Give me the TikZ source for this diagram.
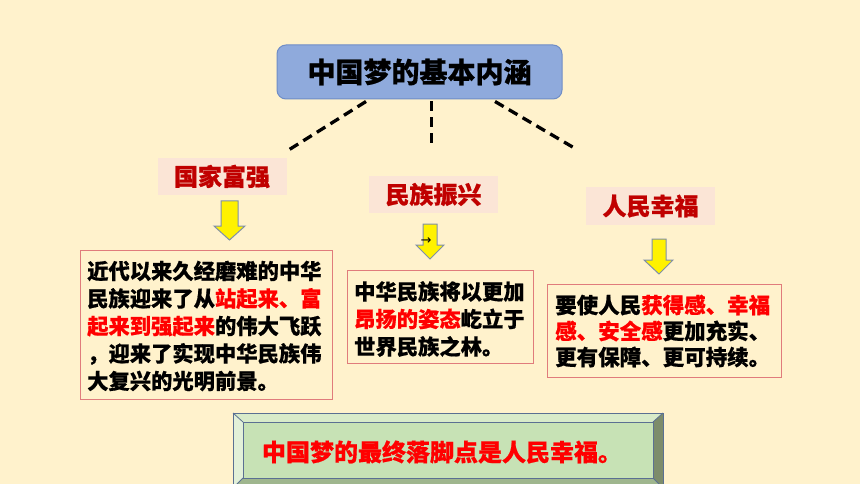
\documentclass[tikz,border=0pt]{standalone}
\usepackage{fontspec}
\newfontfamily\cjk{Noto Sans CJK SC}[BoldFeatures={FakeBold=0.6}]
\newfontfamily\dejavu{DejaVu Sans}
\definecolor{bgc}{HTML}{FFF2CC}
\definecolor{titlefill}{HTML}{8FAADC}
\definecolor{titledraw}{HTML}{6F8DC6}
\definecolor{labelfill}{HTML}{FBE5D6}
\definecolor{labeltext}{HTML}{C00000}
\definecolor{boxdraw}{HTML}{E07C7C}
\definecolor{arrowdraw}{HTML}{7F8FA9}
\definecolor{hotred}{HTML}{FF0000}
\definecolor{bevtop}{HTML}{D8EBC9}
\definecolor{bevleft}{HTML}{E2F0D8}
\definecolor{bevright}{HTML}{7D8C6B}
\definecolor{bevbot}{HTML}{9FB68E}
\definecolor{bevface}{HTML}{C7E2B5}
\definecolor{bevline}{HTML}{5B7092}
\tikzset{
  titlebox/.style={draw=titledraw, line width=1pt, fill=titlefill, rounded corners=9pt,
    minimum width=285pt, minimum height=54pt, inner sep=0pt,
    font=\cjk\bfseries\fontsize{28}{32}\selectfont},
  labelbox/.style={fill=labelfill, minimum width=129pt, minimum height=37pt, inner sep=0pt,
    text=labeltext, font=\cjk\bfseries\fontsize{24}{28}\selectfont},
  textbox/.style={draw=boxdraw, line width=1pt, fill=bgc},
  bodytext/.style={inner sep=0pt, align=left, anchor=west, font=\cjk\bfseries\fontsize{21.3}{27.5}\selectfont},
  linkline/.style={dashed, line width=3.3pt, dash pattern=on 10pt off 6pt},
  yarrow/.style={fill=yellow, draw=arrowdraw, line width=1pt, line join=miter},
  bevel/.style={draw=bevline, line width=0.8pt},
}
\begin{document}
\begin{tikzpicture}[x=1pt,y=-1pt]
\useasboundingbox (0,0) rectangle (860,484);
\clip (0,0) rectangle (860,484);
\fill[bgc] (0,0) rectangle (860,484);

% title
\node[titlebox] (title) at (419.5,72) {中国梦的基本内涵};

% labels
\node[labelbox] (l1) at (222,176.5) {国家富强};
\node[labelbox] (l2) at (433.5,194.5) {民族振兴};
\node[labelbox] (l3) at (650.5,206) {人民幸福};

% dashed connectors
\coordinate (e1) at (287,151);
\coordinate (e2) at (431.5,144);
\coordinate (e3) at (576,149);
\draw[linkline] (title.south -| 366,0) ++(0,2) -- (e1);
\draw[linkline] (title.south -| 431.5,0) ++(0,2) -- (e2);
\draw[linkline] (title.south -| 495,0) ++(0,2) -- (e3);

% yellow arrows
\draw[yarrow] (221,201) -- (238,201) -- (238,226) -- (245,226) -- (229.5,240) -- (214,226) -- (221,226) -- cycle;
\draw[yarrow] (423,224) -- (437,224) -- (437,245) -- (444,245) -- (430,259) -- (416,245) -- (423,245) -- cycle;
\draw[yarrow] (652,239) -- (666,239) -- (666,260) -- (673,260) -- (659,274) -- (644,260) -- (652,260) -- cycle;
\node[inner sep=0pt, font=\dejavu\fontsize{13}{13}\selectfont] (stray) at (426,241) {→};

% text boxes
\draw[textbox] (80,250) rectangle (332,399);
\node[bodytext] (t1) at (87,326) {近代以来久经磨难的中华\\
民族迎来了从\textcolor{hotred}{站起来、富}\\
\textcolor{hotred}{起来到强起来}的伟大飞跃\\
，迎来了实现中华民族伟\\
大复兴的光明前景。};

\draw[textbox] (347,270) rectangle (533,363);
\node[bodytext] (t2) at (354,319) {中华民族将以更加\\
\textcolor{hotred}{昂扬的姿态}屹立于\\
世界民族之林。};

\draw[textbox] (547,284) rectangle (781,377);
\node[bodytext,font=\cjk\bfseries\fontsize{21.5}{26}\selectfont] (t3) at (555,331) {要使人民\textcolor{hotred}{获得感、幸福}\\
\textcolor{hotred}{感、安全感}更加充实、\\
更有保障、更可持续。};

% bottom bevel box
\fill[bevtop] (233,413) -- (663,413) -- (653,422) -- (243,422) -- cycle;
\fill[bevleft] (233,413) -- (243,422) -- (243,478) -- (233,488) -- cycle;
\fill[bevright] (663,413) -- (653,422) -- (653,478) -- (663,488) -- cycle;
\fill[bevbot] (243,478) -- (653,478) -- (663,488) -- (233,488) -- cycle;
\fill[bevface] (243,422) rectangle (653,478);
\draw[bevel] (233,413) rectangle (663,488);
\draw[bevel] (243,422) rectangle (653,478);
\draw[bevel] (233,413) -- (243,422) (663,413) -- (653,422) (653,478) -- (663,488) (243,478) -- (233,488);
\node[inner sep=0pt, text=hotred, font=\cjk\bfseries\fontsize{24}{28}\selectfont] (goal) at (442,452) {中国梦的最终落脚点是人民幸福。};
\end{tikzpicture}
\end{document}
